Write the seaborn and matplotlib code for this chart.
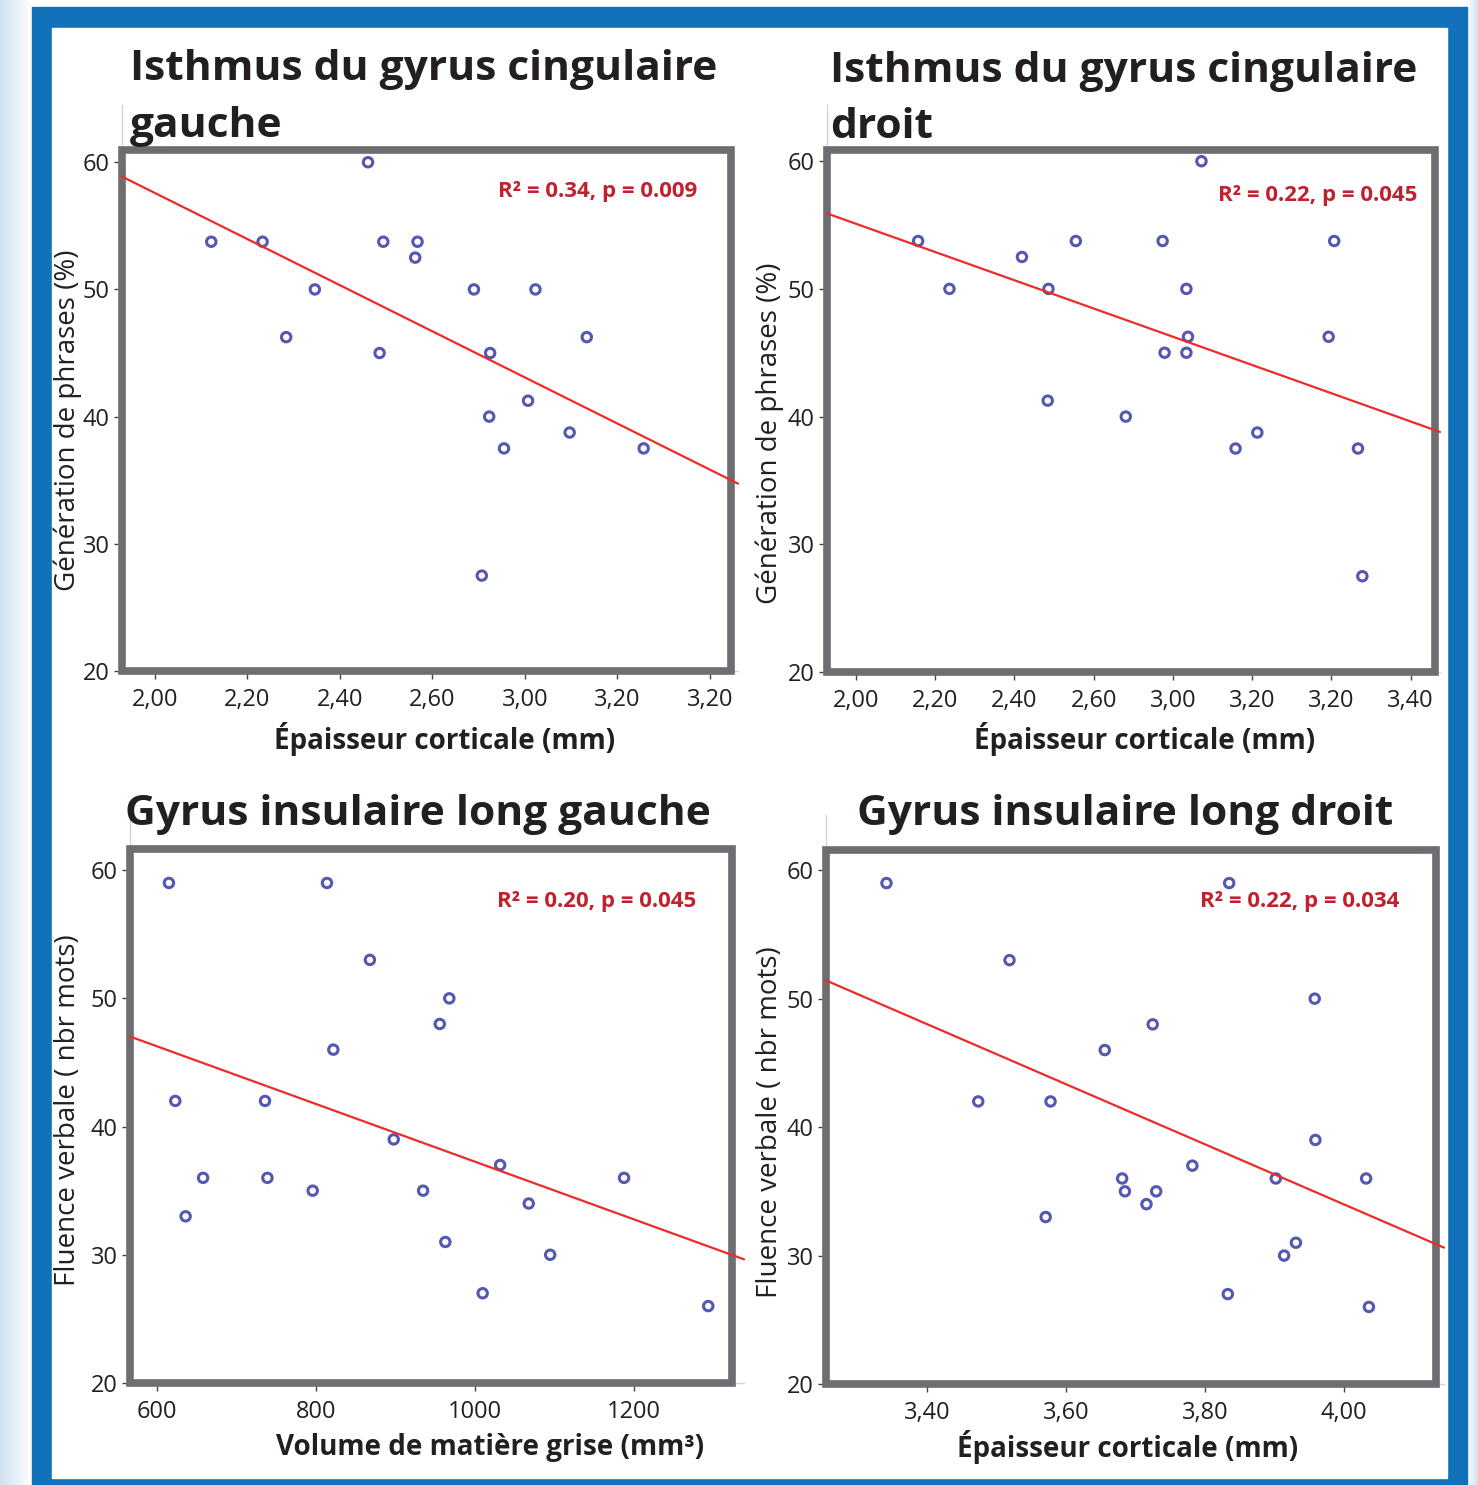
import numpy as np
import matplotlib
matplotlib.use("Agg")
import matplotlib.pyplot as plt
from matplotlib.patches import Rectangle
from matplotlib.colors import LinearSegmentedColormap
import pandas as pd
import seaborn as sns

# Isthmus du gyrus cingulaire gauche : epaisseur (mm) vs generation de phrases (%)
p1_x = [2.461, 2.122, 2.233, 2.494, 2.568, 2.563, 2.346, 2.690, 2.823, 2.284,
        2.934, 2.486, 2.725, 2.807, 2.723, 2.897, 2.755, 3.057, 2.707]
p1_y = [60, 53.75, 53.75, 53.75, 53.75, 52.5, 50, 50, 50, 46.25,
        46.25, 45, 45, 41.25, 40, 38.75, 37.5, 37.5, 27.5]

# Isthmus du gyrus cingulaire droit
p2_x = [2.872, 2.157, 2.555, 2.774, 3.207, 2.419, 2.236, 2.486, 2.834, 2.838,
        3.193, 2.779, 2.834, 2.484, 2.681, 3.013, 2.958, 3.267, 3.278]
p2_y = [60, 53.75, 53.75, 53.75, 53.75, 52.5, 50, 50, 50, 46.25,
        46.25, 45, 45, 41.25, 40, 38.75, 37.5, 37.5, 27.5]

# Gyrus insulaire long gauche : volume (mm3) vs fluence verbale
p3_x = [615, 814, 868, 968, 956, 822, 623, 736, 898, 1032, 658,
        739, 1188, 796, 935, 1068, 636, 963, 1095, 1010, 1294]
p3_y = [59, 59, 53, 50, 48, 46, 42, 42, 39, 37, 36,
        36, 36, 35, 35, 34, 33, 31, 30, 27, 26]

# Gyrus insulaire long droit : epaisseur (mm) vs fluence verbale
p4_x = [3.342, 3.835, 3.519, 3.958, 3.725, 3.656, 3.474, 3.578, 3.959, 3.782, 3.681,
        3.902, 4.032, 3.685, 3.730, 3.716, 3.571, 3.931, 3.914, 3.833, 4.036]
p4_y = [59, 59, 53, 50, 48, 46, 42, 42, 39, 37, 36,
        36, 36, 35, 35, 34, 33, 31, 30, 27, 26]

titles = [["Isthmus du gyrus cingulaire", "gauche"],
          ["Isthmus du gyrus cingulaire", "droit"],
          ["Gyrus insulaire long gauche"],
          ["Gyrus insulaire long droit"]]
xlabels = ["Épaisseur corticale (mm)", "Épaisseur corticale (mm)",
           "Volume de matière grise (mm³)", "Épaisseur corticale (mm)"]
ylabels = ["Génération de phrases (%)", "Génération de phrases (%)",
           "Fluence verbale ( nbr mots)", "Fluence verbale ( nbr mots)"]
stats = ["R² = 0.34, p = 0.009", "R² = 0.22, p = 0.045",
         "R² = 0.20, p = 0.045", "R² = 0.22, p = 0.034"]

# tick labels as printed in the figure (the odd ones included)
xticks = [[2.0, 2.2, 2.4, 2.6, 2.8, 3.0, 3.2],
          [2.0, 2.2, 2.4, 2.6, 2.8, 3.0, 3.2, 3.4],
          [600, 800, 1000, 1200],
          [3.4, 3.6, 3.8, 4.0]]
xticklabels = [["2,00", "2,20", "2,40", "2,60", "3,00", "3,20", "3,20"],
               ["2,00", "2,20", "2,40", "2,60", "3,00", "3,20", "3,20", "3,40"],
               ["600", "800", "1000", "1200"],
               ["3,40", "3,60", "3,80", "4,00"]]
yticks = [20, 30, 40, 50, 60]

W, H = 1478, 1485
GRAY = "#6d6e71"
BLUE = "#5558b0"
RED = "#ee2a2a"
STAT_RED = "#c1202f"
INK = "#231f20"

sns.set_theme(style="ticks")
plt.rcParams['font.family'] = ['Open Sans', 'DejaVu Sans']

fig = plt.figure(figsize=(W / 100, H / 100), dpi=100)
fig.patch.set_facecolor("white")


def fpos(x, y):
    return x / W, 1 - y / H


# frame round the whole figure
bg = fig.add_axes([0, 0, 1, 1], zorder=-10)
bg.set_xlim(0, W)
bg.set_ylim(H, 0)
bg.axis("off")
grad = np.linspace(0, 1, 64).reshape(1, -1)
cm = LinearSegmentedColormap.from_list("fade", ["#cfe2f1", "#ffffff"])
bg.imshow(grad, cmap=cm, extent=[0, 32, H, 0], aspect="auto")
bg.imshow(grad[:, ::-1], cmap=cm, extent=[1467, W, H, 0], aspect="auto")
bg.add_patch(Rectangle((32, 7), 1435, H - 7, color="#1172bb"))
bg.add_patch(Rectangle((52, 28), 1395, 1450, color="white"))

# layout in pixels: axes (left, top, right, bottom), x limits, y top, box right / top
axes_px = [(122, 105, 738, 671), (827, 105, 1440, 672),
           (130, 815, 744, 1383), (826, 815, 1444, 1384)]
xlims = [(1.929, 3.261), (1.927, 3.474), (566, 1339), (3.255, 4.144)]
ytops = [64.5, 64.4, 64.3, 64.3]
box_right = [3.245, 3.462, 1324, 4.133]
box_top = [60.98, 60.87, 61.64, 61.6]
title_pos = [[(130, 80), (130, 137)], [(830, 82), (830, 138)],
             [(125, 825)], [(857, 825)]]
xlabel_pos = [(445, 739), (1145, 739), (490, 1447), (1128, 1447)]
ylabel_pos = [(68, 420), (770, 433), (68, 1110), (770, 1122)]
stat_pos = [(697, 192), (1417, 195), (696, 902), (1399, 902)]

datasets = [(p1_x, p1_y), (p2_x, p2_y), (p3_x, p3_y), (p4_x, p4_y)]

for i, (xs, ys) in enumerate(datasets):
    l, t, r, b = axes_px[i]
    ax = fig.add_axes([l / W, 1 - b / H, (r - l) / W, (b - t) / H])
    ax.set_facecolor("none")
    ax.set_xlim(*xlims[i])
    ax.set_ylim(20, ytops[i])
    df = pd.DataFrame({"x": xs, "y": ys})
    sns.regplot(data=df, x="x", y="y", ax=ax, ci=None, truncate=False,
                scatter_kws={"color": BLUE, "facecolors": "none", "s": 46,
                             "linewidths": 2.2, "alpha": 1, "zorder": 4},
                line_kws={"color": RED, "lw": 1.6, "zorder": 5, "clip_on": False})
    ax.add_patch(Rectangle((xlims[i][0], 20), box_right[i] - xlims[i][0],
                           box_top[i] - 20, fill=False, edgecolor=GRAY,
                           lw=5.5, clip_on=False, zorder=3))
    sns.despine(ax=ax)
    for s in ["left", "bottom"]:
        ax.spines[s].set_color("#d4d4d4")
        ax.spines[s].set_linewidth(1)
    ax.set_xticks(xticks[i])
    ax.set_xticklabels(xticklabels[i])
    ax.set_yticks(yticks)
    ax.tick_params(axis="both", length=6, width=1, color="#444444",
                   labelsize=17, labelcolor=INK, pad=3)
    ax.tick_params(axis="x", pad=6)
    ax.set_xlabel(xlabels[i], fontsize=20, fontweight="bold", color=INK, va="center")
    ax.xaxis.set_label_coords(*fpos(*xlabel_pos[i]), transform=fig.transFigure)
    ax.set_ylabel(ylabels[i], fontsize=20, color=INK, va="center")
    ax.yaxis.set_label_coords(*fpos(*ylabel_pos[i]), transform=fig.transFigure)
    for line, pos in zip(titles[i], title_pos[i]):
        fig.text(*fpos(*pos), line, fontsize=30.6, fontweight="bold",
                 color=INK, ha="left", va="baseline")
    fig.text(*fpos(*stat_pos[i]), stats[i], fontsize=16, fontweight="bold",
             color=STAT_RED, ha="right", va="center")

fig.savefig("out.png", dpi=100)
